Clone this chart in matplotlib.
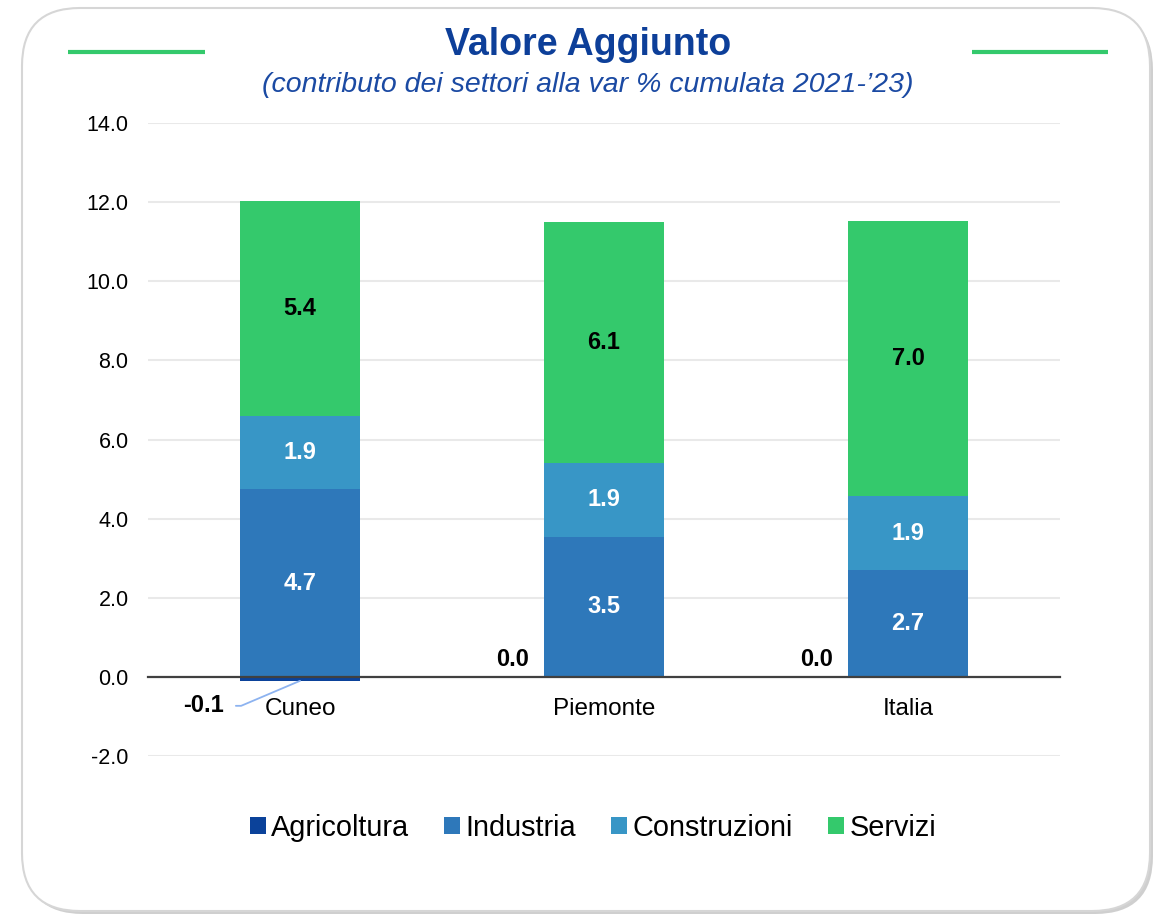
import matplotlib
matplotlib.use("Agg")
import matplotlib.pyplot as plt
from matplotlib.patches import FancyBboxPatch, Patch
import numpy as np

plt.rcParams['font.family'] = ['Liberation Sans', 'DejaVu Sans']

# ---- data ----
categories = ["Cuneo", "Piemonte", "Italia"]
sectors = ["Agricoltura", "Industria", "Construzioni", "Servizi"]
agricoltura = [-0.1, 0.0, 0.0]
industria = [4.74, 3.54, 2.70]
costruzioni = [1.86, 1.87, 1.86]
servizi = [5.42, 6.08, 6.96]
yticks = [-2.0, 0.0, 2.0, 4.0, 6.0, 8.0, 10.0, 12.0, 14.0]

colors = ["#0B429A", "#2E78BA", "#3896C6", "#34C96C"]
label_colors = ["black", "white", "white", "black"]
title_color = "#0D3F99"

W, H = 1173, 914
fig = plt.figure(figsize=(W / 100, H / 100), dpi=100)

# background frame in pixel coordinates
bg = fig.add_axes([0, 0, 1, 1], zorder=0)
bg.set_xlim(0, W)
bg.set_ylim(0, H)
bg.axis('off')
shadow = FancyBboxPatch((25, 0), 1128, 902, boxstyle="round,pad=0,rounding_size=58",
                        facecolor="#cfcfcf", edgecolor="none")
bg.add_patch(shadow)
frame = FancyBboxPatch((22, 3), 1128, 903, boxstyle="round,pad=0,rounding_size=58",
                       facecolor="white", edgecolor="#d6d6d6", linewidth=1.5)
bg.add_patch(frame)
bg.plot([68, 205], [862, 862], color="#34C96C", lw=3, solid_capstyle='butt')
bg.plot([972, 1108], [862, 862], color="#34C96C", lw=3, solid_capstyle='butt')
bg.text(588, 869, "Valore Aggiunto", ha='center', va='center', fontsize=27,
        fontweight='bold', color=title_color)
bg.text(588, 829, "(contributo dei settori alla var % cumulata 2021-\u201923)", ha='center',
        va='center', fontsize=20.5, style='italic', color="#1B4AA3")

# main axes
ax = fig.add_axes([148 / W, 158 / H, 912 / W, 633 / H], zorder=1)
ax.patch.set_alpha(0)
x = np.arange(len(categories))
width = 0.395

series = [agricoltura, industria, costruzioni, servizi]
pos_base = np.zeros(len(categories))
neg_base = np.zeros(len(categories))
for s, (name, vals, col, lc) in enumerate(zip(sectors, series, colors, label_colors)):
    vals = np.array(vals)
    bottoms = np.where(vals >= 0, pos_base, neg_base)
    ax.bar(x, vals, width, bottom=bottoms, color=col, zorder=2, label=name)
    for i, v in enumerate(vals):
        if s == 0:
            if v < 0:
                ax.annotate(f"{v:.1f}", xy=(x[i], v), xytext=(-97, -25),
                            textcoords='offset pixels', ha='center', va='center',
                            fontsize=17, fontweight='bold', color='black',
                            arrowprops=dict(arrowstyle='-', color='#8DB3F0', lw=1.3,
                                            connectionstyle='angle,angleA=0,angleB=23,rad=0',
                                            relpos=(1, 0.5), shrinkA=7, shrinkB=0))
            else:
                ax.annotate(f"{v:.1f}", xy=(x[i] - width / 2, 0), xytext=(-15, 17),
                            textcoords='offset pixels', ha='right', va='center',
                            fontsize=17, fontweight='bold', color='black')
        else:
            ax.text(x[i], bottoms[i] + v / 2, f"{v:.1f}", ha='center', va='center',
                    fontsize=17, fontweight='bold', color=lc, zorder=4)
    pos_base = pos_base + np.where(vals >= 0, vals, 0)
    neg_base = neg_base + np.where(vals < 0, vals, 0)

ax.set_xlim(-0.5, len(categories) - 0.5)
ax.set_ylim(-2, 14)
for side in ['top', 'right', 'left']:
    ax.spines[side].set_visible(False)
ax.spines['bottom'].set_position(('data', 0))
ax.spines['bottom'].set_color('#404040')
ax.spines['bottom'].set_linewidth(1.6)
ax.spines['bottom'].set_zorder(3)
ax.set_yticks(yticks)
ax.set_yticklabels([f"{t:.1f}" for t in yticks], fontsize=15.5)
ax.set_xticks(x)
ax.set_xticklabels(categories, fontsize=17.5)
ax.tick_params(axis='y', length=0, pad=14)
ax.tick_params(axis='x', length=0, pad=15.5)
ax.grid(axis='y', color='#e9e9e9', lw=1.5, zorder=0)
ax.set_axisbelow(True)

handles = [Patch(facecolor=c, edgecolor='none') for c in colors]
fig.legend(handles, sectors, loc='center', bbox_to_anchor=(593 / W, 1 - 828 / H),
           ncol=4, frameon=False, fontsize=20.8, handlelength=0.55, handleheight=0.55,
           handletextpad=0.2, columnspacing=1.2)

fig.savefig("out.png", dpi=100)
